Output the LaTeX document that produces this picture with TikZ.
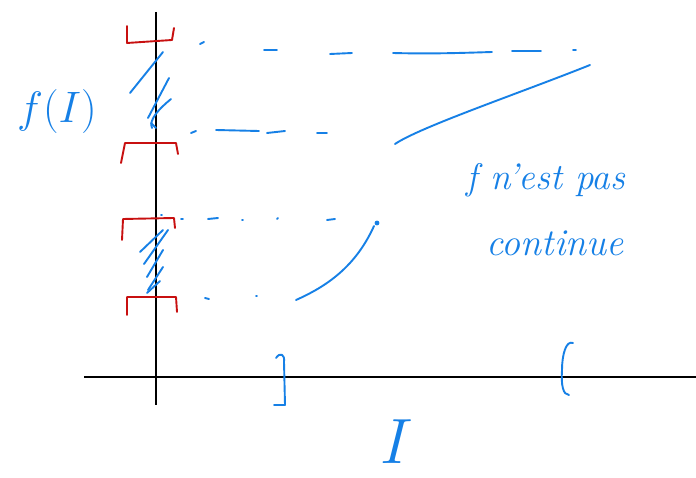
\RequirePackage{fix-cm}
\documentclass[tikz,border=0pt]{standalone}
\definecolor{pen}{RGB}{22,128,230}
\definecolor{redpen}{RGB}{200,16,16}
\tikzset{
  ink/.style={draw=pen,line width=1.9pt,line cap=round,line join=round},
  rink/.style={draw=redpen,line width=1.9pt,line cap=round,line join=round},
  axis/.style={draw=black,line width=1.6pt},
  lbl/.style={text=pen,inner sep=0pt}
}
\begin{document}
\begin{tikzpicture}[x=1pt,y=-1pt]
\useasboundingbox[fill=white] (0,0) rectangle (696,478);
% axes
\draw[axis] (156,12) -- (156,405);
\draw[axis] (84,377) -- (696,377);
% red brackets on y axis
\draw[rink] (127,26) -- (127,43) -- (172,40) -- (174,28);
\draw[rink] (121,163) -- (125,143) -- (176,143) -- (178,154);
\draw[rink] (122,240) -- (123,219) -- (174,218) -- (175,228);
\draw[rink] (127,315) -- (127,297) -- (176,297) -- (177,312);
% hatching top
\draw[ink] (130,93) -- (163,52);
\draw[ink] (148,118) -- (169,78);
\draw[ink] (152,128) .. controls (148,120) and (160,108) .. (171,99);
\draw[ink] (151,123) -- (156,128);
% hatching bottom
\draw[ink] (140,252) -- (163,230);
\draw[ink] (144,264) -- (168,230);
\draw[ink] (147,277) -- (163,250);
\draw[ink] (148,290) -- (163,267);
\draw[ink] (147,293) -- (160,281);
% dashed level lines
\draw[ink] (200,44) -- (204,42);
\draw[ink] (264,50) -- (277,50);
\draw[ink] (330,54) -- (352,53);
\draw[ink] (393,53) .. controls (430,54) and (460,53) .. (492,52);
\draw[ink] (512,51) -- (541,51);
\draw[ink] (573,50) -- (576,50);
\draw[ink] (191,133) -- (196,131);
\draw[ink] (216,130) -- (259,131);
\draw[ink] (267,133) -- (285,131);
\draw[ink] (317,133) -- (327,133);
\draw[ink] (161,215) -- (162,215);
\draw[ink] (181,219) -- (183,219);
\draw[ink] (208,219) -- (218,218);
\draw[ink] (242,220) -- (243,220);
\draw[ink] (277,219) -- (278,218);
\draw[ink] (327,220) -- (335,219);
\draw[ink] (205,298) -- (209,299);
\draw[ink] (256,296) -- (257,296);
% graph pieces
\draw[ink] (296,300) .. controls (325,287) and (355,268) .. (374,226);
\fill[pen] (377,223) circle (2.4pt);
\draw[ink] (395,144) .. controls (420,127) and (520,93) .. (590,65);
% brackets on x axis
\draw[ink] (276,358) .. controls (280,352) and (285,354) .. (284,362) -- (285,405) -- (274,405);
\draw[ink] (573,343) .. controls (566,340) and (562,355) .. (562,370) .. controls (561,385) and (563,395) .. (569,395);
% labels
\node[lbl,font=\fontsize{44}{44}\selectfont] (fI) at (57,112) {$f(I)$};
\node[lbl,font=\fontsize{37}{37}\selectfont\itshape] (t1) at (546,180) {f n'est pas};
\node[lbl,font=\fontsize{38}{38}\selectfont\itshape] (t2) at (555,243) {continue};
\node[lbl,font=\fontsize{64}{64}\selectfont] (Ilab) at (397,442) {$I$};
\end{tikzpicture}
\end{document}
